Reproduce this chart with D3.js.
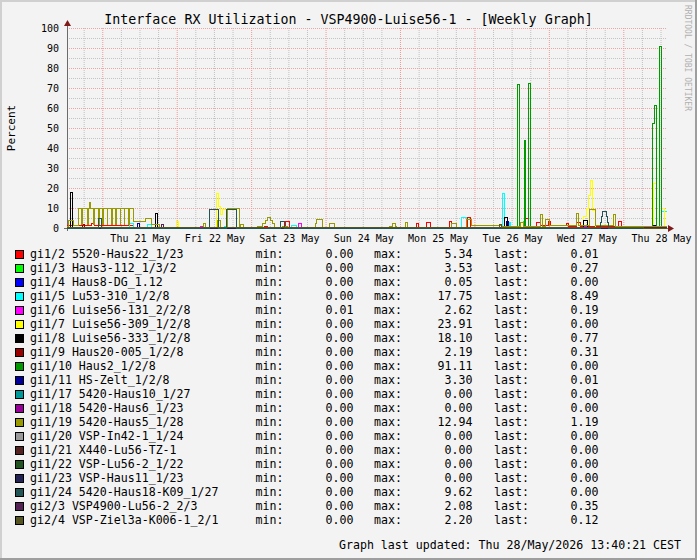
<!DOCTYPE html>
<html>
<head>
<meta charset="utf-8">
<script src="https://cdn.jsdelivr.net/npm/d3@7"></script>
<style>
body { margin: 0; background: #f3f3f3; }
svg { display: block; font-family: "DejaVu Sans Mono", monospace; }
</style>
</head>
<body>
<div id="chart"></div>
<script>
var width = 697, height = 560;

// time window of the graph
var startTime = new Date(Date.UTC(2026, 4, 20, 12, 28));
var endTime = new Date(Date.UTC(2026, 4, 28, 13, 56));

var titleText = 'Interface RX Utilization - VSP4900-Luise56-1 - [Weekly Graph]';
var footerText = 'Graph last updated: Thu 28/May/2026 13:40:21 CEST';

var yTickValues = [0, 10, 20, 30, 40, 50, 60, 70, 80, 90, 100];

var names = [
  'gi1/2 5520-Haus22_1/23', 'gi1/3 Haus3-112_1/3/2', 'gi1/4 Haus8-DG_1.12',
  'gi1/5 Lu53-310_1/2/8', 'gi1/6 Luise56-131_2/2/8', 'gi1/7 Luise56-309_1/2/8',
  'gi1/8 Luise56-333_1/2/8', 'gi1/9 Haus20-005_1/2/8', 'gi1/10 Haus2_1/2/8',
  'gi1/11 HS-Zelt_1/2/8', 'gi1/17 5420-Haus10_1/27', 'gi1/18 5420-Haus6_1/23',
  'gi1/19 5420-Haus5_1/28', 'gi1/20 VSP-In42-1_1/24', 'gi1/21 X440-Lu56-TZ-1',
  'gi1/22 VSP-Lu56-2_1/22', 'gi1/23 VSP-Haus11_1/23', 'gi1/24 5420-Haus18-K09_1/27',
  'gi2/3 VSP4900-Lu56-2_2/3', 'gi2/4 VSP-Ziel3a-K006-1_2/1'
];
var colors = [
  '#ff0000', '#00ff00', '#0000ff', '#00ffff', '#ff00ff', '#ffff00', '#000000',
  '#990000', '#009900', '#000099', '#009999', '#990099', '#999900', '#999999',
  '#552222', '#225522', '#222255', '#225555', '#552255', '#555522'
];
var minVals = [0, 0, 0, 0, 0.01, 0, 0, 0, 0, 0, 0, 0, 0, 0, 0, 0, 0, 0, 0, 0];
var maxVals = [5.34, 3.53, 0.05, 17.75, 2.62, 23.91, 18.10, 2.19, 91.11, 3.30,
  0, 0, 12.94, 0, 0, 0, 0, 9.62, 2.08, 2.20];
var lastVals = [0.01, 0.27, 0, 8.49, 0.19, 0, 0.77, 0.31, 0, 0.01,
  0, 0, 1.19, 0, 0, 0, 0, 0, 0.35, 0.12];

// [hours since start, percent] - value holds until the next point
var gi1_2 = [[0,1.5],[7.9,2.7],[9.0,1.3],[21.5,0.5],[30,0.2],[63.8,1.0],[64.6,0.2],[70.6,3.7],[71.7,0.2],
  [105.8,1.0],[106.3,0.2],[112.8,2.3],[113.3,0.3],[115.8,2.8],[117.1,0.3],[123.2,3.5],[124.1,0.3],
  [129.0,5.3],[130.0,0.5],[147.7,4.8],[148.8,0.8],[151.5,3.2],[152.6,1.5],[155.3,3.6],[156.0,1.5],
  [161.0,2.7],[161.7,1.2],[164.2,3.0],[165.5,1.0],[177.8,3.4],[178.7,0.5],[186,0.01]];
var gi1_3 = [[0,0],[147.3,3.5],[147.6,0.3],[186,0.27]];
var gi1_4 = [[0,0],[100,0.05],[100.4,0]];
var gi1_5 = [[0,0],[20.3,2.5],[21.6,0],[26.1,2.0],[27.1,0],[50.9,1.0],[51.3,0],[72.5,1.5],[74.1,0],
  [127.3,5.3],[128.9,0.3],[140.5,17.75],[141.0,0.3],[142.7,3.2],[143.1,0.2],[191.8,8.49]];
var gi1_6 = [[0,0.01],[29.9,0.6],[30.8,0.01],[43.0,1.0],[43.8,0.01],[74.7,2.62],[75.6,0.01],
  [166.5,1.0],[167.5,0.1],[186,0.19]];
var gi1_7 = [[0,0],[35.2,3.5],[36.0,0],[48.1,17.5],[48.9,11],[49.4,7],[50.3,9.5],[51.9,0],
  [146.1,1.0],[146.6,0],[166.5,6],[167.4,10],[168.0,16.5],[168.7,23.91],[169.6,9],[170.5,0],
  [189.0,22.5],[190.0,0],[191.8,10],[192.6,0]];
var gi1_8 = [[0,0],[1.1,18.1],[1.9,0.5],[3.0,0],[28.5,7.5],[29.2,0],[141.0,5.5],[141.9,0.3],
  [166.5,4.0],[167.7,0.3],[188.7,1.5],[189.7,0.77]];
var gi1_9 = [[0,0.3],[5.0,2.19],[5.5,0.3],[186,0.31]];
var gi1_10 = [[0,0],[145.1,72],[145.9,0],[147.4,44],[148.0,0],[148.8,72.5],[149.6,0],
  [188.9,52.3],[189.5,61.5],[190.0,0],[191.0,91.11],[191.6,0]];
var gi1_11 = [[0,0],[22.8,2.7],[23.3,0],[141.6,3.3],[142.2,0],[186,0.01]];
var gi1_17 = [[0,0]];
var gi1_18 = [[0,0]];
var gi1_19 = [[0,1],[0.5,4],[2.2,1.5],[3.6,10],[4.7,2],[5.0,10],[6.5,2],[6.9,10],[7.2,12.94],
  [7.7,10],[8.6,2],[9.0,10],[10.2,2],[10.5,10],[11.6,2],[11.9,10],[12.9,2],[13.2,10],[14.4,2],
  [14.7,10],[15.7,2],[16.0,10],[17.1,2],[17.4,10],[18.4,2],[18.7,10],[19.8,2],[20.1,10],
  [21.5,3.7],[25.3,4.8],[27.2,2],[29.7,0.5],[43.9,2.3],[44.6,0.5],[48.5,4],[49.4,0.5],
  [51.8,9.8],[55.6,0.5],[56.0,2],[57.0,0.5],[61.5,1],[63.0,2.3],[63.9,4],[64.5,5.5],[65.6,4],
  [66.2,2.3],[66.8,0.5],[69.5,1],[71.0,0.5],[80.0,2.5],[80.5,4.3],[82.5,0.5],[84.8,2.3],[86.1,0.5],
  [104.0,1.2],[104.8,2.3],[106.0,1.2],[106.4,0.5],[109.3,3.2],[109.9,0.5],[124.1,2.7],[125.7,0.5],
  [128.9,4.3],[130.5,1.5],[140,1],[146.1,3],[147.1,1],[152.6,7],[153.4,1],[154.2,4.3],[155.5,1.5],
  [164.2,7.5],[164.9,1.5],[168.6,9.3],[170.4,1.5],[176.2,7],[176.8,1.2],[186,1.19]];
var gi1_20 = [[0,0]];
var gi1_21 = [[0,0]];
var gi1_22 = [[0,0]];
var gi1_23 = [[0,0]];
var gi1_24 = [[0,0],[10.0,5],[11.0,0],[46.1,9.3],[48.7,0],[51.5,9.62],[54.5,0],[69.0,3.4],[70.0,0],
  [171.9,3],[172.3,6],[172.7,8.5],[173.9,6],[174.3,3],[174.6,0]];
var gi2_3 = [[0,0.3],[30.5,2.08],[31.0,0.3],[98,0.7],[99.5,0.3],[118,0.7],[119.5,0.3],[186,0.35]];
var gi2_4 = [[0,0.3],[139.5,2.2],[140.0,0.3],[186,0.12]];

var seriesData = [gi1_2, gi1_3, gi1_4, gi1_5, gi1_6, gi1_7, gi1_8, gi1_9, gi1_10, gi1_11,
  gi1_17, gi1_18, gi1_19, gi1_20, gi1_21, gi1_22, gi1_23, gi1_24, gi2_3, gi2_4];

var spanHours = (endTime - startTime) / 3600000;
var hourToDate = function(h){ return new Date(+startTime + h * 3600000); };

var svg = d3.select('#chart').append('svg')
  .attr('width', width).attr('height', height);

svg.append('rect').attr('width', width).attr('height', height).attr('fill', '#f3f3f3');
// frame shading
svg.append('rect').attr('x', 0).attr('y', 0).attr('width', width).attr('height', 2).attr('fill', '#d0d0d0');
svg.append('rect').attr('x', 0).attr('y', 0).attr('width', 2).attr('height', height).attr('fill', '#d0d0d0');
svg.append('rect').attr('x', 0).attr('y', height - 2).attr('width', width).attr('height', 2).attr('fill', '#9e9e9e');
svg.append('rect').attr('x', width - 2).attr('y', 0).attr('width', 2).attr('height', height).attr('fill', '#9e9e9e');

var x = d3.scaleUtc().domain([startTime, endTime]).range([67, 667]);
var y = d3.scaleLinear().domain([0, 100]).range([228, 28]);

// grid
var grid = svg.append('g').attr('stroke-dasharray', '1,1');
d3.range(5, 100, 10).forEach(function(v){
  grid.append('line').attr('x1', 67).attr('x2', 667).attr('y1', y(v) + 0.5).attr('y2', y(v) + 0.5)
    .attr('stroke', '#c4c4c4').attr('shape-rendering', 'crispEdges');
});
d3.utcHour.every(6).range(startTime, endTime).forEach(function(t){
  if (t.getUTCHours() === 0) return;
  grid.append('line').attr('x1', x(t)).attr('x2', x(t))
    .attr('y1', 28).attr('y2', 228).attr('stroke', '#c0c0c0');
});
yTickValues.filter(function(v){ return v > 0; }).forEach(function(v){
  grid.append('line').attr('x1', 67).attr('x2', 667).attr('y1', y(v) + 0.5).attr('y2', y(v) + 0.5)
    .attr('stroke', '#eea4a4').attr('shape-rendering', 'crispEdges');
});
d3.utcDay.range(startTime, endTime).forEach(function(t){
  grid.append('line').attr('x1', x(t)).attr('x2', x(t))
    .attr('y1', 28).attr('y2', 228).attr('stroke', '#ee9a9a');
});

// axes labels
var yAxis = svg.append('g').attr('transform', 'translate(67,0)')
  .call(d3.axisLeft(y).tickValues(yTickValues).tickSize(0).tickPadding(8));
yAxis.select('.domain').remove();
yAxis.selectAll('text').attr('font-family', '"DejaVu Sans Mono", monospace')
  .attr('font-size', '10px').attr('fill', '#000');

var noonTicks = d3.utcDay.range(d3.utcDay.ceil(startTime), endTime).map(function(d){
  return d3.utcHour.offset(d, 12);
});
var xAxis = svg.append('g').attr('transform', 'translate(0,228)')
  .call(d3.axisBottom(x).tickValues(noonTicks).tickFormat(d3.utcFormat('%a %d %b'))
    .tickSize(0).tickPadding(6.4));
xAxis.select('.domain').remove();
xAxis.selectAll('text').attr('font-family', '"DejaVu Sans Mono", monospace')
  .attr('font-size', '10px').attr('fill', '#000');

// axis lines
svg.append('line').attr('x1', 67.5).attr('x2', 67.5).attr('y1', 231).attr('y2', 25)
  .attr('stroke', '#6b6b6b').attr('shape-rendering', 'crispEdges');
svg.append('line').attr('x1', 64).attr('x2', 669).attr('y1', 228.5).attr('y2', 228.5)
  .attr('stroke', '#6b6b6b').attr('shape-rendering', 'crispEdges');

// data lines
var line = d3.line()
  .x(function(d){ return x(hourToDate(d[0])); })
  .y(function(d){ return Math.round(y(d[1])) + 0.5; })
  .curve(d3.curveStepAfter);

seriesData.forEach(function(pts, i){
  var full = pts.concat([[spanHours, pts[pts.length - 1][1]]]);
  svg.append('path').datum(full)
    .attr('d', line)
    .attr('fill', 'none')
    .attr('stroke', colors[i])
    .attr('stroke-width', 1)
    .attr('shape-rendering', 'crispEdges');
});

// arrows
svg.append('path').attr('d', 'M64,26L71,26L67.5,20Z').attr('fill', '#7f1a1a');
svg.append('path').attr('d', 'M668,225L668,232L674,228.5Z').attr('fill', '#7f1a1a');

// title, labels
svg.append('text').attr('x', 348.5).attr('y', 24).attr('text-anchor', 'middle')
  .attr('font-size', '13.3px').attr('fill', '#000').text(titleText);
svg.append('text').attr('transform', 'translate(14.5,128) rotate(-90)').attr('text-anchor', 'middle')
  .attr('font-size', '11px').attr('fill', '#000').text('Percent');
svg.append('text').attr('transform', 'translate(685,5) rotate(90)')
  .attr('font-size', '8px').attr('fill', '#b0b0b0').text('RRDTOOL / TOBI OETIKER');

// legend
var fmt = d3.format('.2f');
var legend = svg.append('g').attr('font-size', '11.6px').attr('fill', '#000');
names.forEach(function(n, i){
  var by = 258.3 + 14 * i;
  legend.append('rect').attr('x', 15.5).attr('y', by - 8).attr('width', 8).attr('height', 8)
    .attr('fill', colors[i]).attr('stroke', '#000').attr('shape-rendering', 'crispEdges');
  legend.append('text').attr('x', 30).attr('y', by).text(n);
  legend.append('text').attr('x', 255.5).attr('y', by).text('min:');
  legend.append('text').attr('x', 353.5).attr('y', by).attr('text-anchor', 'end').text(fmt(minVals[i]));
  legend.append('text').attr('x', 374).attr('y', by).text('max:');
  legend.append('text').attr('x', 472.5).attr('y', by).attr('text-anchor', 'end').text(fmt(maxVals[i]));
  legend.append('text').attr('x', 494).attr('y', by).text('last:');
  legend.append('text').attr('x', 598.5).attr('y', by).attr('text-anchor', 'end').text(fmt(lastVals[i]));
});
legend.append('text').attr('x', 681).attr('y', 549).attr('text-anchor', 'end').text(footerText);
</script>
</body>
</html>
